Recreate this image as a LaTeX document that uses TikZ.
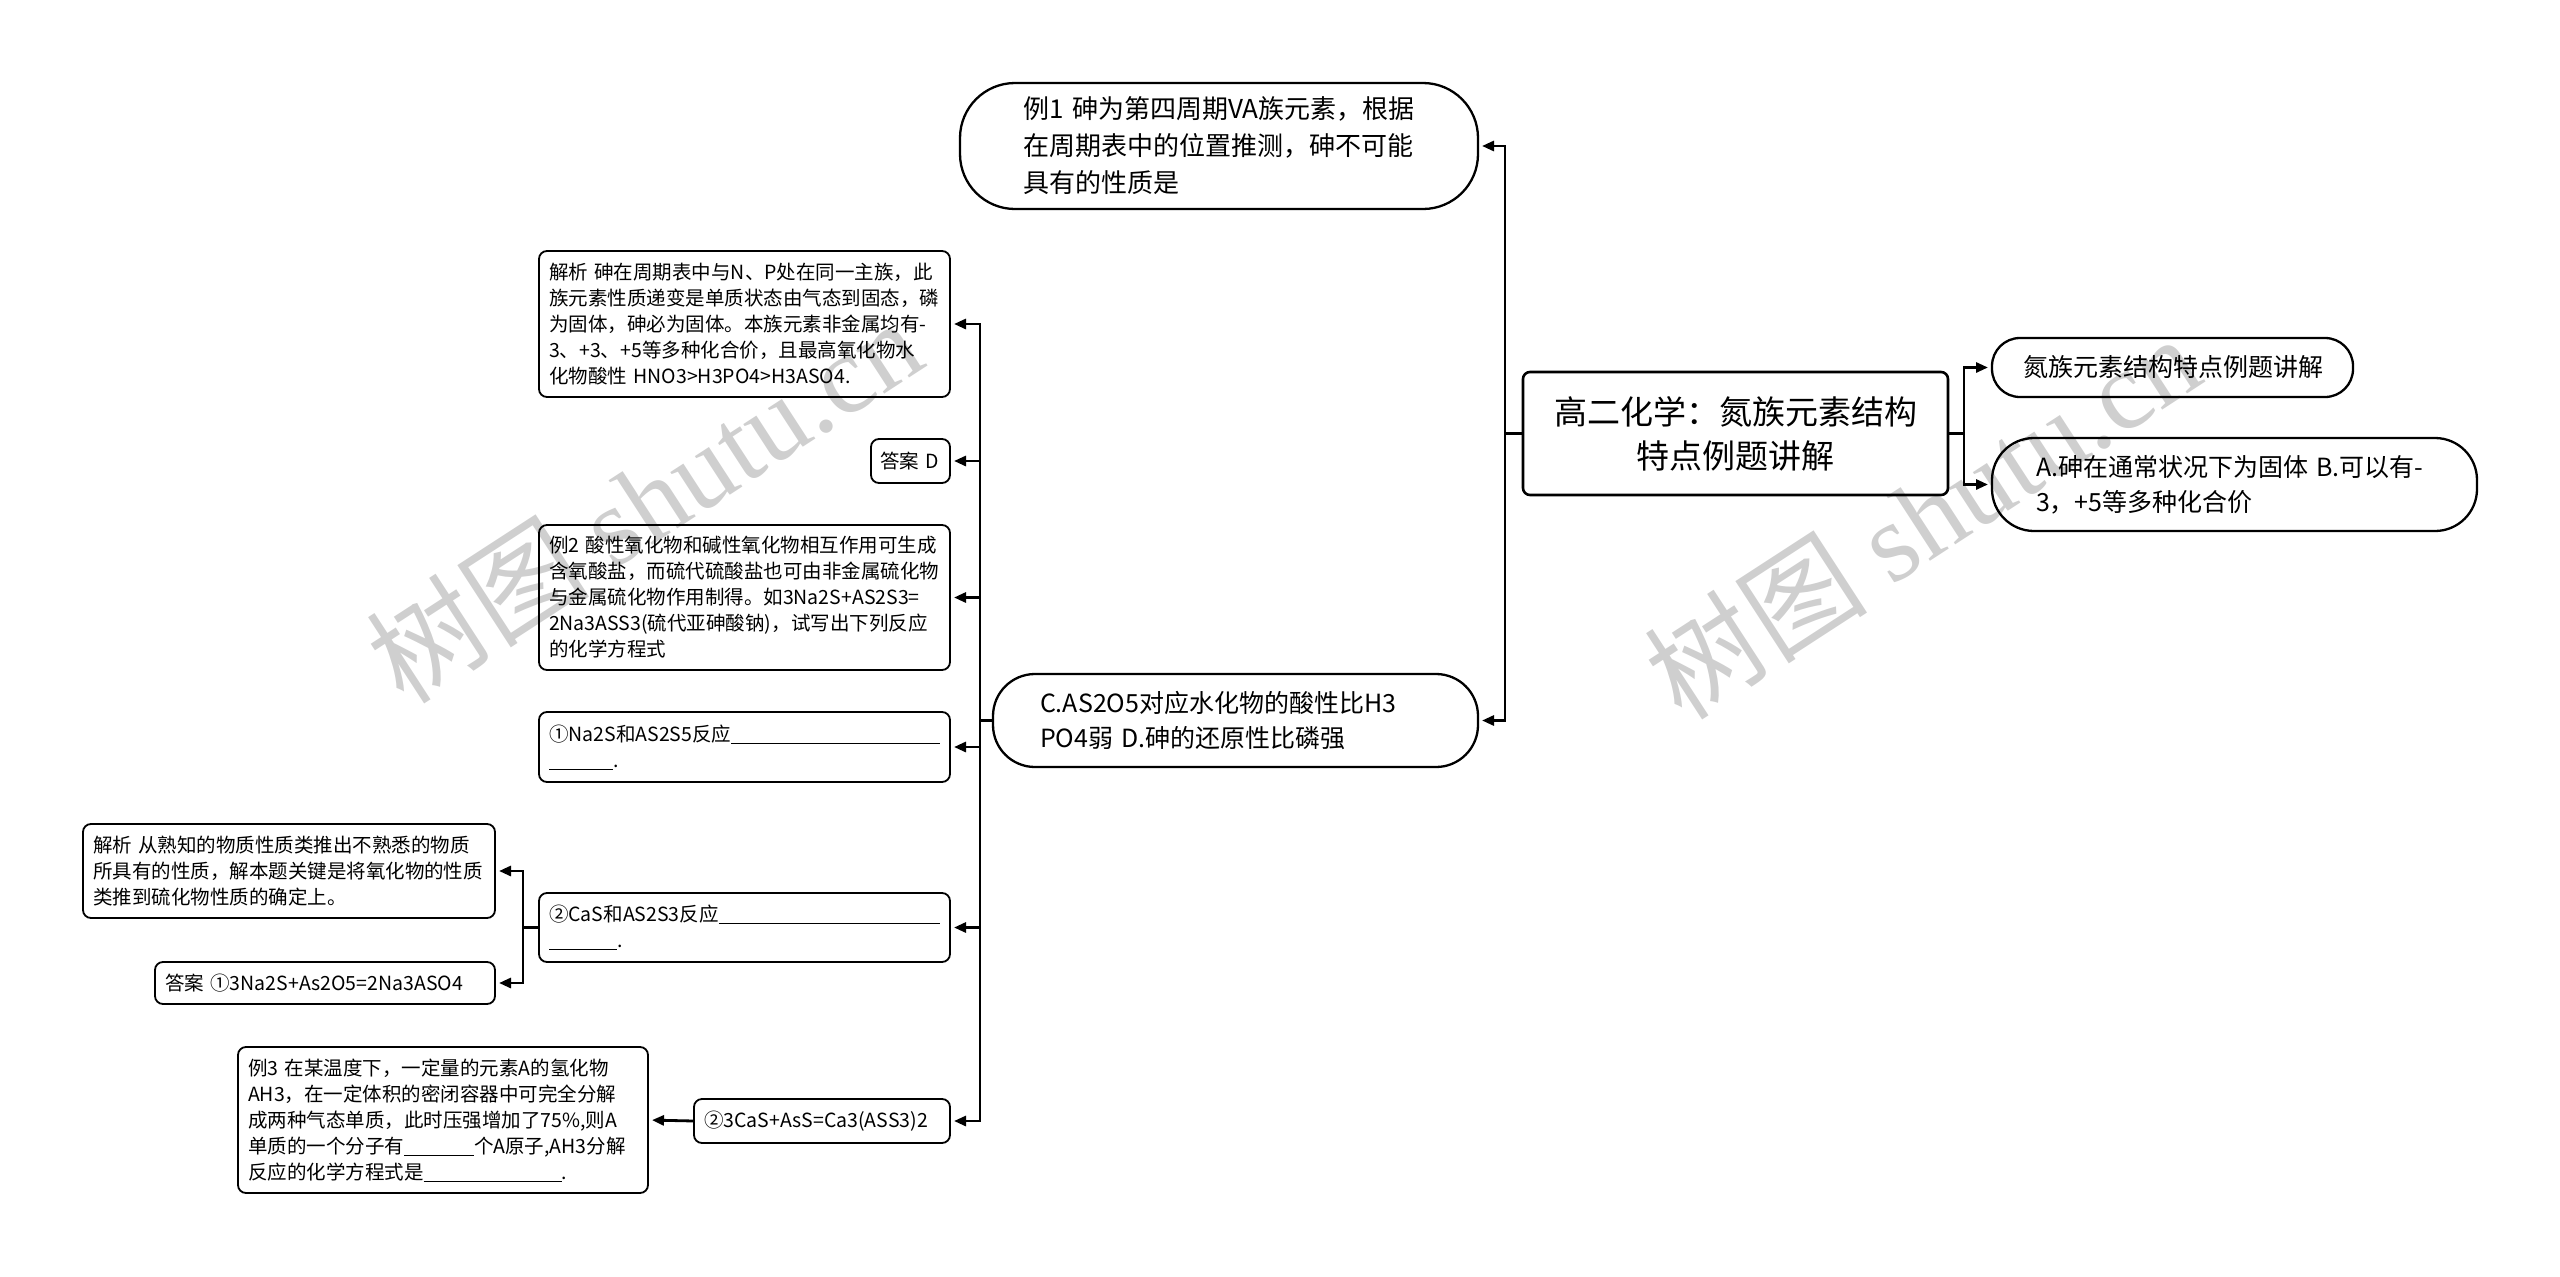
\documentclass[tikz,border=0pt]{standalone}
\usepackage{fontspec}
\setmainfont{Noto Sans CJK SC}
\newfontfamily\wmlat{Liberation Serif}
\usetikzlibrary{arrows.meta}
\newcommand{\blankfill}{\leaders\hrule height -1.5pt depth 2.5pt\hskip 0pt plus 1filll\null}
\newcommand{\blank}[1]{\rule[-2.5pt]{#1}{1pt}}
\begin{document}
\begin{tikzpicture}[x=1pt,y=-1pt,
  every node/.style={outer sep=0pt},
  rootbox/.style={draw, line width=2.6pt, rounded corners=7pt, fill=white, align=center,
    inner xsep=10pt, inner ysep=0pt, font=\fontsize{33}{44}\selectfont},
  pill/.style={draw, line width=2.3pt, fill=white, align=left, inner ysep=0pt,
    font=\fontsize{25}{35}\selectfont},
  sbox/.style={draw, line width=1.8pt, rounded corners=8pt, fill=white, align=left,
    inner xsep=10pt, inner ysep=0pt, font=\fontsize{19.5}{26}\selectfont},
  conn/.style={line width=2.8pt, line join=miter},
  arr/.style={conn, -{Triangle[length=12pt,width=10pt]}, shorten >=4pt},
  wm/.style={text=black, text opacity=0.19, rotate=33, font=\fontsize{112}{120}\selectfont}
]
\useasboundingbox (0,0) rectangle (2560,1277);
\fill[white] (0,0) rectangle (2560,1277);

% root and right children
\node[rootbox, minimum height=123pt, text width=405pt] (root) at (1735.5,433.5)
  {高二化学：氮族元素结构\\特点例题讲解};
\node[pill, rounded corners=28pt, inner xsep=31pt, minimum height=59pt, text width=299pt] (c1) at (2172.5,367.5)
  {氮族元素结构特点例题讲解};
\node[pill, rounded corners=42pt, inner xsep=44pt, minimum height=93pt, text width=397pt] (c2) at (2234.5,484.5)
  {A.砷在通常状况下为固体~B.可以有-\\3，+5等多种化合价};

% left children of root
\node[pill, rounded corners=55pt, inner xsep=63pt, minimum height=126pt, text width=392pt,
  font=\fontsize{26}{37}\selectfont] (e1) at (1219,146)
  {例1~砷为第四周期VA族元素，根据\\在周期表中的位置推测，砷不可能\\具有的性质是};
\node[pill, rounded corners=42pt, inner xsep=47pt, minimum height=93pt, text width=391pt] (e2) at (1235.5,720.5)
  {C.AS2O5对应水化物的酸性比H3\\PO4弱~D.砷的还原性比磷强};

% children of e2
\node[sbox, minimum height=146pt, text width=391pt] (a1) at (744.5,324)
  {解析~砷在周期表中与N、P处在同一主族，此\\族元素性质递变是单质状态由气态到固态，磷\\为固体，砷必为固体。本族元素非金属均有-\\3、+3、+5等多种化合价，且最高氧化物水\\化物酸性~HNO3>H3PO4>H3ASO4.};
\node[sbox, inner xsep=9pt, minimum height=44pt, text width=61pt] (a2) at (910.5,461) {答案~D};
\node[sbox, minimum height=145pt, text width=391pt] (a3) at (744.5,597.5)
  {例2~酸性氧化物和碱性氧化物相互作用可生成\\含氧酸盐，而硫代硫酸盐也可由非金属硫化物\\与金属硫化物作用制得。如3Na2S+AS2S3=\\2Na3ASS3(硫代亚砷酸钠)，试写出下列反应\\的化学方程式};
\node[sbox, minimum height=70pt, text width=391pt] (a4) at (744.5,747)
  {①Na2S和AS2S5反应\blankfill\\\blank{64pt}.};
\node[sbox, minimum height=69pt, text width=391pt] (a5) at (744.5,927.5)
  {②CaS和AS2S3反应\blankfill\\\blank{68pt}.};
\node[sbox, minimum height=44pt, text width=236pt] (a6) at (822,1121)
  {②3CaS+AsS=Ca3(ASS3)2};

% children of a5
\node[sbox, minimum height=94pt, text width=392pt] (b1) at (289,871)
  {解析~从熟知的物质性质类推出不熟悉的物质\\所具有的性质，解本题关键是将氧化物的性质\\类推到硫化物性质的确定上。};
\node[sbox, minimum height=42pt, text width=320pt] (b2) at (325,983)
  {答案~①3Na2S+As2O5=2Na3ASO4};

% child of a6
\node[sbox, minimum height=146pt, text width=390pt] (d1) at (443,1120)
  {例3~在某温度下，一定量的元素A的氢化物\\AH3，在一定体积的密闭容器中可完全分解\\成两种气态单质，此时压强增加了75\%,则A\\单质的一个分子有\blank{70pt}个A原子,AH3分解\\反应的化学方程式是\blank{138pt}.};

% junctions
\coordinate (jR) at (1964,433.5);
\coordinate (jL) at (1505,433.5);
\coordinate (jC) at (980,720.5);
\coordinate (jD) at (523,927.5);

% connectors
\draw[conn] (root.east) -- (jR);
\draw[arr] (jR) |- (c1.west);
\draw[arr] (jR) |- (c2.west);
\draw[conn] (root.west) -- (jL);
\draw[arr] (jL) |- (e1.east);
\draw[arr] (jL) |- (e2.east);
\draw[conn] (e2.west) -- (jC);
\draw[arr] (jC) |- (a1.east);
\draw[arr] (jC) |- (a2.east);
\draw[arr] (jC) |- (a3.east);
\draw[arr] (jC) |- (a4.east);
\draw[arr] (jC) |- (a5.east);
\draw[arr] (jC) |- (a6.east);
\draw[conn] (a5.west) -- (jD);
\draw[arr] (jD) |- (b1.east);
\draw[arr] (jD) |- (b2.east);
\draw[arr] (a6.west) -- (d1.east);

% watermarks
\node[wm] (wm1) at (644,500) {树图~{\wmlat shutu.cn}};
\node[wm] (wm2) at (1922,516) {树图~{\wmlat shutu.cn}};
\end{tikzpicture}
\end{document}
